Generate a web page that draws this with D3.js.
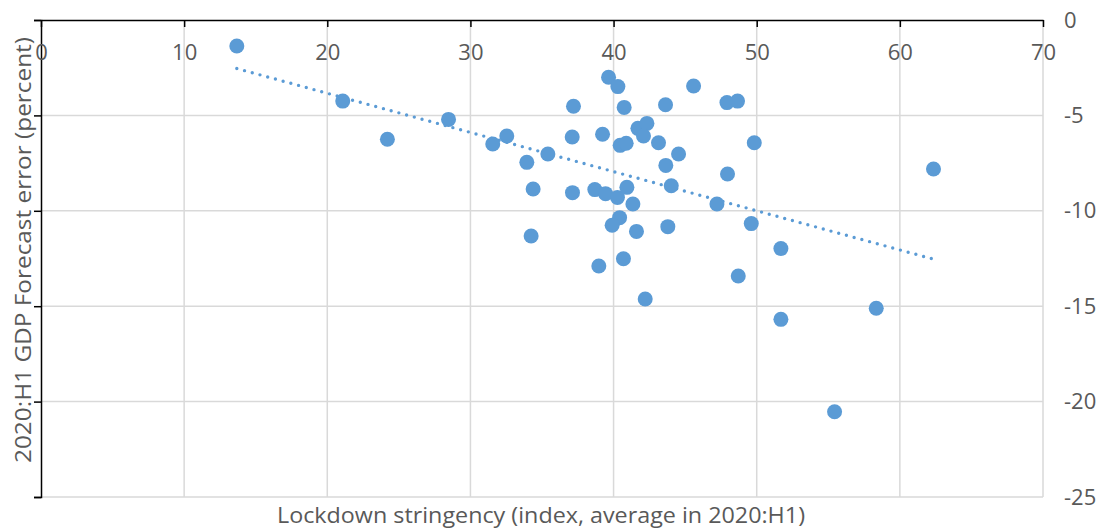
<!DOCTYPE html>
<html>
<head>
<meta charset="utf-8">
<script src="https://cdn.jsdelivr.net/npm/d3@7"></script>
<style>
  body { margin: 0; background: #fff; }
  text { font-family: "Open Sans", sans-serif; fill: #595959; }
</style>
</head>
<body>
<div id="chart"></div>
<script>
// Lockdown stringency (x) vs 2020:H1 GDP forecast error (y)
const stringency = [13.68, 21.08, 24.2, 28.47, 31.56, 32.54, 33.94, 35.41, 34.38, 34.24,
  37.2, 37.11, 37.13, 38.69, 39.65, 40.3, 40.74, 39.23, 39.44, 40.27,
  40.93, 40.46, 40.88, 41.7, 42.33, 42.09, 43.14, 43.63, 45.59, 44.54,
  43.65, 44.03, 47.96, 47.92, 48.66, 49.83, 47.22, 41.35, 49.62, 40.42,
  39.9, 41.6, 43.79, 38.97, 40.69, 48.71, 42.21, 51.69, 51.69, 58.35,
  55.44, 62.35];
const forecastError = [-1.36, -4.25, -6.25, -5.21, -6.5, -6.08, -7.46, -7.02, -8.86, -11.32,
  -4.52, -6.13, -9.05, -8.89, -3.0, -3.49, -4.58, -5.99, -9.1, -9.3,
  -8.77, -6.57, -6.46, -5.68, -5.42, -6.08, -6.43, -4.44, -3.46, -7.02,
  -7.62, -8.69, -8.07, -4.33, -4.25, -6.43, -9.64, -9.64, -10.67, -10.36,
  -10.76, -11.08, -10.83, -12.89, -12.51, -13.42, -14.62, -11.98, -15.69, -15.11,
  -20.53, -7.81];
const xTicks = [0, 10, 20, 30, 40, 50, 60, 70];
const yTicks = [0, -5, -10, -15, -20, -25];

const data = stringency.map((d, i) => ({ x: d, y: forecastError[i] }));

const width = 1102, height = 531;
const plot = { left: 41, right: 1043, top: 20, bottom: 497 };
const blue = "#5b9bd5";
const fontSize = "22px";

const svg = d3.select("#chart").append("svg")
  .attr("width", width)
  .attr("height", height);

const x = d3.scaleLinear().domain([0, 70]).range([plot.left, plot.right]);
const y = d3.scaleLinear().domain([-25, 0]).range([plot.bottom, plot.top]);

// gridlines
svg.append("g").selectAll("line")
  .data(xTicks.slice(1))
  .join("line")
  .attr("x1", d => x(d)).attr("x2", d => x(d))
  .attr("y1", plot.top).attr("y2", plot.bottom)
  .attr("stroke", "#d9d9d9").attr("stroke-width", 1.5);

svg.append("g").selectAll("line")
  .data(yTicks.slice(1))
  .join("line")
  .attr("x1", plot.left).attr("x2", plot.right)
  .attr("y1", d => y(d)).attr("y2", d => y(d))
  .attr("stroke", "#d9d9d9").attr("stroke-width", 1.5);

// left axis (ticks only)
const yAxis = svg.append("g")
  .attr("transform", `translate(${plot.left},0)`)
  .call(d3.axisLeft(y).tickValues(yTicks).tickSize(7).tickFormat(""));
yAxis.selectAll("path, line").attr("stroke", "#000").attr("stroke-width", 1.5);

// top axis, ticks pointing down, labels under the line
const xAxis = svg.append("g")
  .attr("transform", `translate(0,${plot.top})`)
  .call(d3.axisTop(x).tickValues(xTicks).tickSizeInner(-7).tickSizeOuter(0));
xAxis.selectAll("path, line").attr("stroke", "#000").attr("stroke-width", 1.5);
xAxis.selectAll("text")
  .attr("y", 40)
  .attr("dy", 0)
  .style("font-size", fontSize);

// right labels (plain hyphen like the source)
const yRight = svg.append("g")
  .attr("transform", `translate(${plot.right},0)`)
  .call(d3.axisRight(y).tickValues(yTicks).tickSize(0).tickPadding(21)
    .tickFormat(d => String(d)));
yRight.select(".domain").remove();
yRight.selectAll("text").style("font-size", fontSize);

// trendline (least squares)
const mx = d3.mean(data, d => d.x), my = d3.mean(data, d => d.y);
const slope = d3.sum(data, d => (d.x - mx) * (d.y - my)) / d3.sum(data, d => (d.x - mx) ** 2);
const icpt = my - slope * mx;
const [x0, x1] = d3.extent(data, d => d.x);
svg.append("line")
  .attr("x1", x(x0)).attr("y1", y(icpt + slope * x0))
  .attr("x2", x(x1)).attr("y2", y(icpt + slope * x1))
  .attr("stroke", blue)
  .attr("stroke-width", 3.4)
  .attr("stroke-linecap", "round")
  .attr("stroke-dasharray", "0 8");

// points
svg.append("g").selectAll("circle")
  .data(data)
  .join("circle")
  .attr("cx", d => x(d.x))
  .attr("cy", d => y(d.y))
  .attr("r", 7.5)
  .attr("fill", blue);

// axis titles
svg.append("text")
  .attr("x", 541)
  .attr("y", 523)
  .attr("text-anchor", "middle")
  .style("font-size", fontSize)
  .attr("textLength", 528)
  .attr("lengthAdjust", "spacingAndGlyphs")
  .text("Lockdown stringency (index, average in 2020:H1)");

svg.append("text")
  .attr("transform", "translate(31,250) rotate(-90)")
  .attr("text-anchor", "middle")
  .style("font-size", fontSize)
  .attr("textLength", 426)
  .attr("lengthAdjust", "spacingAndGlyphs")
  .text("2020:H1 GDP Forecast error (percent)");
</script>
</body>
</html>
